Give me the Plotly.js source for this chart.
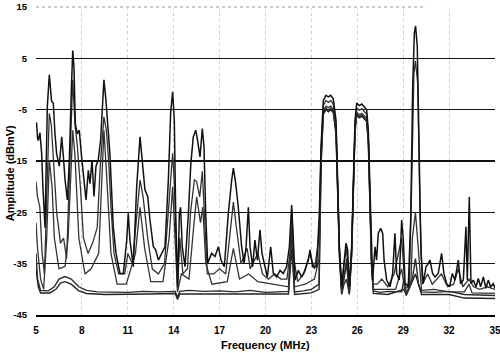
<!DOCTYPE html>
<html>
<head>
<meta charset="utf-8">
<script src="https://cdn.plot.ly/plotly-3.0.1.min.js"></script>
<style>html,body{margin:0;padding:0;background:#fff;}#chart{width:500px;height:358px;}</style>
</head>
<body>
<div id="chart"></div>
<script>
// Frequency (MHz) and amplitude (dBmV) for each sweep
var freq1 = [5.0,5.04,5.1,5.15,5.26,5.37,5.45,5.59,5.74,5.87,6.02,6.13,6.24,6.35,6.52,6.68,6.79,6.9,7.05,7.18,7.31,7.4,7.48,7.57,7.7,7.83,7.98,8.14,8.27,8.42,8.53,8.66,8.79,8.92,9.07,9.22,9.36,9.44,9.57,9.7,9.83,9.94,10.05,10.23,10.38,10.49,10.71,10.93,11.03,11.14,11.36,11.58,11.8,11.95,12.12,12.3,12.45,12.67,12.82,13.0,13.21,13.43,13.65,13.8,13.93,14.04,14.13,14.26,14.37,14.45,14.56,14.74,14.96,15.12,15.28,15.44,15.56,15.72,15.87,15.98,16.09,16.22,16.48,16.7,16.92,17.09,17.31,17.57,17.79,17.9,18.05,18.22,18.44,18.6,18.73,18.88,18.99,19.16,19.31,19.47,19.64,19.77,19.97,20.12,20.34,20.51,20.73,20.95,21.16,21.38,21.56,21.71,21.82,21.93,22.15,22.36,22.58,22.8,22.91,23.08,23.34,23.52,23.63,23.78,23.95,24.11,24.26,24.43,24.61,24.72,24.83,24.98,25.13,25.26,25.37,25.48,25.63,25.74,25.85,25.96,26.13,26.29,26.44,26.61,26.72,26.83,26.93,27.0,27.16,27.26,27.37,27.53,27.66,27.75,27.92,28.14,28.31,28.46,28.57,28.74,28.9,29.01,29.12,29.33,29.49,29.62,29.73,29.81,29.92,30.03,30.16,30.31,30.49,30.64,30.75,30.92,31.08,31.29,31.51,31.66,31.84,32.03,32.21,32.38,32.6,32.75,32.93,33.1,33.19,33.32,33.43,33.58,33.76,33.91,34.06,34.24,34.41,34.56,34.71,34.89,35.0];
var amp1 = [-7.5,-7.7,-10.5,-11,-9.5,-13.6,-20,-28,-4.4,1.8,-3.4,-3.7,-9.7,-13.6,-16,-10.3,-14.2,-18.7,-22.6,-14.8,-1.2,6.5,3.4,-7.7,-9.7,-9,-14.2,-18.7,-22.6,-16.8,-19.4,-14.8,-21.9,-16,-14.8,-11,-1.8,0.8,-3.1,-8.4,-13.6,-20.7,-27.8,-33,-35.6,-36.9,-36.9,-30.4,-25.2,-30.4,-35.6,-20,-10.3,-15.5,-20.6,-21.9,-26.5,-31.7,-32.3,-34.3,-33,-31.7,-18.7,-5.7,-1.5,-7,-25.2,-39.5,-25.2,-24,-31.7,-35.6,-25.2,-15.5,-10.3,-9,-11,-14.2,-8.7,-12.2,-25.2,-34.9,-33,-33.6,-31.7,-34.3,-35.6,-25.2,-18.7,-16.4,-19.3,-24,-31.7,-34.9,-31.7,-24,-31.7,-35.6,-30.4,-34.3,-28.4,-33,-35.6,-37.6,-31.7,-36.9,-37.6,-36.3,-36.9,-35.6,-31.7,-23.6,-30.4,-38.2,-36.3,-37.6,-36.3,-34.3,-32.3,-35.6,-35.6,-25.2,-12.2,-3.2,-2.2,-2.5,-2.2,-2.9,-7.1,-18.7,-31.7,-39.5,-35.6,-31,-32.3,-39.5,-31.7,-18.7,-7.1,-3.7,-4.2,-3.9,-4.5,-5.0,-9,-22,-33,-38.2,-31.7,-34.3,-29.1,-28.1,-29.1,-34.3,-38.2,-39.5,-36.9,-29.1,-36.9,-38.2,-26.5,-30.4,-38.9,-39.5,-26.5,-0.4,9.9,11.3,7.3,-13.5,-33,-38.9,-35.6,-35,-34.3,-36.9,-37.6,-36.9,-33,-36.9,-38.9,-39.5,-36.9,-38.2,-34.3,-38.9,-38.2,-27.8,-38.2,-22,-38.9,-38.2,-39.5,-37.9,-39.5,-37.6,-39.8,-38.2,-39.5,-38.9,-39.8];

var freq2 = [5.0,5.1,5.25,5.4,5.55,5.7,5.87,6.0,6.15,6.35,6.6,6.8,7.0,7.2,7.4,7.55,7.7,7.9,8.1,8.4,8.7,9.0,9.2,9.44,9.6,9.75,9.9,10.1,10.4,10.8,11.0,11.3,11.6,11.8,12.0,12.3,12.6,13.0,13.4,13.7,13.93,14.05,14.15,14.25,14.4,14.6,14.9,15.1,15.35,15.5,15.7,15.87,16.0,16.2,16.6,17.0,17.4,17.7,17.9,18.1,18.4,18.8,19.0,19.5,19.8,20.2,20.6,21.0,21.4,21.6,21.72,21.85,22.1,22.5,22.9,23.2,23.5,23.63,23.78,23.95,24.11,24.26,24.43,24.61,24.72,24.83,24.98,25.13,25.3,25.48,25.63,25.74,25.85,25.96,26.13,26.29,26.44,26.61,26.72,26.83,26.93,27.05,27.3,27.6,28.0,28.4,28.9,29.1,29.4,29.55,29.7,29.8,29.95,30.1,30.25,30.6,30.9,31.5,31.9,32.3,32.6,32.9,33.3,33.6,34.0,34.5,35.0];
var amp2 = [-19,-22,-24,-33,-37,-20,-5.7,-8,-15,-25,-31,-30,-34,-15,0.8,-8,-12,-20,-30,-33,-31,-28,-16,-6.4,-9,-15,-24,-33,-37,-37,-33,-35,-25,-18.7,-22,-30,-36,-37,-35,-22,-13.5,-20,-33,-40,-30,-37,-36,-25,-18.7,-19,-22,-17,-25,-37,-37,-36,-37,-28,-23,-28,-35,-32,-36,-33,-37,-38,-37,-38,-38,-33,-24.5,-34,-38.5,-37,-33,-36,-30,-13,-4.2,-3.2,-3.6,-3.2,-3.9,-8,-19.5,-32,-40,-35,-32,-40,-32,-19.5,-7.8,-4.6,-5.1,-4.8,-5.4,-5.9,-10,-23,-34,-39,-39,-38,-39.5,-37,-30,-39,-39,-20,2,4.5,0,-25,-39,-37,-39,-37,-39.5,-39,-36,-39.5,-38,-39.5,-40,-39.5,-40];

var freq3 = [5.0,5.1,5.3,5.5,5.7,5.87,6.05,6.2,6.5,6.9,7.1,7.25,7.4,7.55,7.8,8.2,8.6,9.1,9.3,9.44,9.6,9.9,10.3,10.9,11.5,11.8,12.1,12.5,13.3,13.7,13.93,14.1,14.25,14.5,15.0,15.3,15.5,15.75,15.9,16.1,16.5,17.5,17.9,18.3,18.9,19.5,20.5,21.5,21.72,21.9,22.6,23.2,23.5,23.63,23.78,23.95,24.11,24.26,24.43,24.61,24.72,24.83,24.98,25.13,25.3,25.48,25.63,25.74,25.85,25.96,26.13,26.29,26.44,26.61,26.72,26.83,26.93,27.05,27.5,28.5,28.9,29.1,29.5,29.6,29.8,30.0,30.2,31.0,32.0,33.0,33.3,33.5,35.0];
var amp3 = [-27,-32,-38,-40,-30,-14.8,-20,-30,-36,-35.5,-30,-20,-9,-14,-30,-37,-36,-33,-18,-9,-17,-33,-39,-39,-33,-24,-32,-38.5,-38.5,-30,-20,-32,-40.5,-37,-38,-28,-22,-27,-24,-35,-39,-38.5,-32,-38,-37,-38.5,-39,-39.5,-28,-39.5,-39,-38,-34,-14,-5.2,-4.3,-4.6,-4.3,-4.9,-9,-20.5,-32.5,-40.5,-37,-34,-40.5,-32.5,-20.5,-8.5,-5.5,-6,-5.7,-6.2,-6.7,-10.5,-23.5,-34.5,-40,-40,-40,-36,-40,-39,-30,-25,-32,-40.2,-40,-40.5,-40.5,-39,-40.7,-40.8];

var freq4 = [5.0,5.1,5.3,5.8,6.2,6.5,6.9,7.3,7.8,8.3,9.0,10.0,11.0,12.0,13.0,14.1,14.25,14.4,15.0,16.0,17.0,18.0,19.0,20.0,21.5,21.72,21.9,22.5,23.0,23.5,23.63,23.78,23.95,24.11,24.26,24.43,24.61,24.72,24.83,24.98,25.13,25.3,25.48,25.63,25.74,25.85,25.96,26.13,26.29,26.44,26.61,26.72,26.83,26.93,27.05,27.5,28.0,28.9,29.05,29.2,29.6,29.8,30.0,30.2,31.0,32.0,33.0,35.0];
var amp4 = [-33,-38,-40.2,-40.3,-39.5,-38,-37.5,-38,-39.5,-40.2,-40.5,-40.6,-40.6,-40.4,-40.5,-40.4,-41.5,-40.4,-40.2,-40.4,-40.3,-40.5,-40.2,-40.6,-40.4,-29,-40.5,-40.3,-40,-39,-15,-5.6,-4.7,-5.1,-4.7,-5.3,-9.5,-21,-33,-40.8,-38,-35,-40.8,-33,-21,-9,-5.8,-6.3,-6,-6.5,-7,-11,-24,-35,-40.3,-40.6,-40.4,-40.5,-38,-40.8,-38,-34,-39,-40.5,-40.6,-40.4,-41,-41.2];

var freq5 = [5.0,5.15,5.3,5.9,6.3,6.6,6.9,7.3,7.8,8.3,9.5,11.0,12.5,14.1,14.25,14.4,16.0,18.0,20.0,21.5,21.72,21.9,23.0,23.5,23.63,23.78,23.95,24.11,24.26,24.43,24.61,24.72,24.83,24.98,25.13,25.3,25.48,25.63,25.74,25.85,25.96,26.13,26.29,26.44,26.61,26.72,26.83,26.93,27.05,28.0,29.05,29.2,29.8,30.2,32.0,33.0,35.0];
var amp5 = [-36,-39.5,-40.7,-40.7,-40,-38.8,-38.5,-39,-40.3,-40.8,-41,-41,-40.9,-40.8,-42,-40.9,-40.9,-41,-41,-40.9,-32,-41,-40.7,-40,-16,-5.9,-5,-5.4,-5,-5.6,-9.8,-21.5,-33.5,-41,-39,-38,-41,-33.5,-21.5,-9.3,-6.1,-6.6,-6.3,-6.8,-7.3,-11.5,-24.5,-35.5,-40.8,-41,-40,-41.2,-37,-41,-41,-41.7,-41.8];

var xTicks = [5,8,11,14,17,20,23,26,29,32,35];
var yTicks = [-45,-35,-25,-15,-5,5,15];

var series = [
  {x: freq5, y: amp5, color: '#222', w: 1.4},
  {x: freq4, y: amp4, color: '#2a2a2a', w: 1.4},
  {x: freq3, y: amp3, color: '#333', w: 1.3},
  {x: freq2, y: amp2, color: '#333', w: 1.3},
  {x: freq1, y: amp1, color: '#111', w: 1.5}
];
var traces = series.map(function(s){
  return {x: s.x, y: s.y, type: 'scatter', mode: 'lines',
          line: {color: s.color, width: s.w}, hoverinfo: 'skip', showlegend: false};
});

var fontFam = 'Liberation Sans, Arial, sans-serif';
var layout = {
  width: 500, height: 358,
  margin: {l: 36, r: 5, t: 7, b: 43},
  paper_bgcolor: '#fff', plot_bgcolor: '#fff',
  showlegend: false,
  xaxis: {
    range: [5, 35], tickvals: xTicks, ticktext: xTicks.map(String),
    showgrid: true, gridcolor: '#cfcfcf', griddash: 'dot', gridwidth: 1,
    zeroline: false, showline: true, linecolor: '#000', linewidth: 2,
    ticks: '', ticklabelstandoff: 5, ticklabeloverflow: 'allow',
    tickfont: {family: fontFam, size: 10, color: '#000', weight: 'bold'}
  },
  yaxis: {
    range: [-45, 15], tickvals: yTicks, ticktext: yTicks.map(String),
    showgrid: true, gridcolor: '#111', gridwidth: 1.5,
    zeroline: false, showline: false,
    ticks: '', ticklabelstandoff: 8,
    tickfont: {family: fontFam, size: 9.5, color: '#000', weight: 'bold'}
  },
  shapes: [
    {type: 'line', xref: 'paper', yref: 'paper', x0: 0, x1: 1, y0: 1, y1: 1,
     line: {color: '#fff', width: 3}},
    {type: 'line', xref: 'paper', yref: 'paper', x0: 0, x1: 0.85, y0: 1, y1: 1,
     line: {color: '#999', width: 1, dash: 'dot'}}
  ],
  annotations: [
    {text: 'Amplitude (dBmV)', xref: 'paper', yref: 'paper', x: -0.057, y: 0.46,
     textangle: -90, showarrow: false, xanchor: 'center', yanchor: 'middle',
     font: {family: fontFam, size: 11, color: '#000', weight: 'bold'}},
    {text: 'Frequency (MHz)', xref: 'paper', yref: 'paper', x: 0.5, y: -0.098,
     showarrow: false, xanchor: 'center', yanchor: 'middle',
     font: {family: fontFam, size: 11, color: '#000', weight: 'bold'}}
  ]
};

Plotly.newPlot('chart', traces, layout, {staticPlot: true, displayModeBar: false});
</script>
</body>
</html>
